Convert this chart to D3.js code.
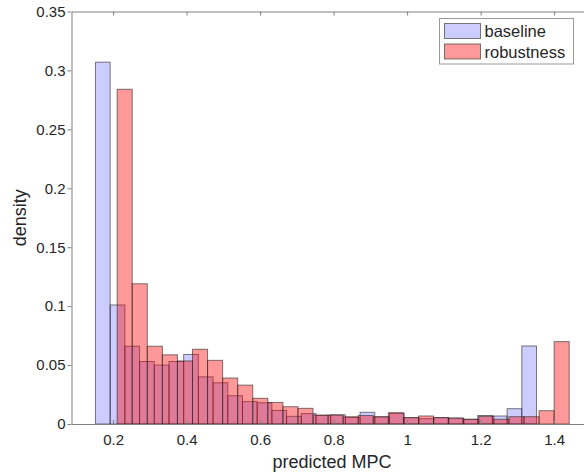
<!DOCTYPE html>
<head>
<title>predicted MPC histogram</title>
<script src="https://d3js.org/d3.v7.min.js"></script>
</head>

<style>
body {
	margin: 0;
	background: #fff;
}
text {
	font-family: "Liberation Sans", Arial, Helvetica, sans-serif;
	fill: #262626;
}
</style>

<body>
 <svg class="chart"></svg>
</body>

<script>

// series names (legend order)
var seriesNames = ["baseline", "robustness"];

// bin edges
var baselineEdges = [0.152, 0.192, 0.232, 0.272, 0.312, 0.352, 0.392, 0.432, 0.472, 0.512,
	0.552, 0.592, 0.632, 0.672, 0.712, 0.752, 0.792, 0.832, 0.872, 0.912,
	0.952, 0.992, 1.032, 1.072, 1.112, 1.152, 1.192, 1.232, 1.272, 1.312, 1.352];
var robustnessEdges = [0.211, 0.252, 0.293, 0.334, 0.375, 0.416, 0.457, 0.498, 0.539, 0.580,
	0.621, 0.662, 0.703, 0.744, 0.785, 0.826, 0.867, 0.908, 0.949, 0.990,
	1.031, 1.072, 1.113, 1.154, 1.195, 1.236, 1.277, 1.318, 1.359, 1.400, 1.441];

// densities per bin
var baselineDensity = [0.307, 0.101, 0.066, 0.053, 0.050, 0.053, 0.059, 0.040, 0.035, 0.024,
	0.019, 0.018, 0.0115, 0.0065, 0.0088, 0.0073, 0.0078, 0.0055, 0.0099, 0.0060,
	0.0090, 0.0054, 0.0045, 0.0054, 0.0050, 0.0040, 0.0072, 0.0068, 0.0130, 0.0662];
var robustnessDensity = [0.284, 0.119, 0.066, 0.0587, 0.0535, 0.0634, 0.054, 0.039, 0.033, 0.0218,
	0.0183, 0.0147, 0.0133, 0.0076, 0.0076, 0.0062, 0.0072, 0.0062, 0.0096, 0.0054,
	0.0068, 0.0054, 0.0050, 0.0040, 0.0065, 0.0040, 0.0062, 0.0062, 0.0113, 0.0699];

// tick labels
var xTickValues = [0.2, 0.4, 0.6, 0.8, 1, 1.2, 1.4];
var xTickLabels = ["0.2", "0.4", "0.6", "0.8", "1", "1.2", "1.4"];
var yTickValues = [0, 0.05, 0.1, 0.15, 0.2, 0.25, 0.3, 0.35];
var yTickLabels = ["0", "0.05", "0.1", "0.15", "0.2", "0.25", "0.3", "0.35"];

//set up chart
var totalWidth = 584;
var totalHeight = 473;
var margin = {top: 11.5, left: 71.5};
var width = 516;      // right spine falls just off the picture
var height = 412.5;

var fills = ["rgba(0,0,255,0.2)", "rgba(255,0,0,0.4)"];

var svg = d3.select(".chart")
	.attr("width", totalWidth)
	.attr("height", totalHeight);

var chart = svg.append("g")
	.attr("transform", "translate(" + margin.left + "," + margin.top + ")");

var xChart = d3.scaleLinear()
	.domain([0.0868, 1.4908])
	.range([0, width]);

var yChart = d3.scaleLinear()
	.domain([0, 0.35])
	.range([height, 0]);

function binsOf(edges, values) {
	return values.map(function(v, i) {
		return {x0: edges[i], x1: edges[i + 1], v: v};
	});
}

var series = [
	binsOf(baselineEdges, baselineDensity),
	binsOf(robustnessEdges, robustnessDensity)
];

//draw bars, baseline first then robustness over it
series.forEach(function(bins, s) {
	chart.append("g")
		.selectAll("rect")
		.data(bins)
		.enter()
		.append("rect")
		.attr("x", function(d){ return xChart(d.x0); })
		.attr("y", function(d){ return yChart(d.v); })
		.attr("width", function(d){ return xChart(d.x1) - xChart(d.x0); })
		.attr("height", function(d){ return height - yChart(d.v); })
		.attr("fill", fills[s])
		.attr("stroke", "#262626")
		.attr("stroke-opacity", 0.6)
		.attr("stroke-width", 1);
});

//axes
var xAxis = d3.axisBottom(xChart)
	.tickValues(xTickValues)
	.tickFormat(function(d, i){ return xTickLabels[i]; })
	.tickSizeInner(-4)
	.tickSizeOuter(0)
	.tickPadding(10.5);

var xTop = d3.axisTop(xChart)
	.tickValues(xTickValues)
	.tickFormat("")
	.tickSizeInner(-4)
	.tickSizeOuter(0);

var yAxis = d3.axisLeft(yChart)
	.tickValues(yTickValues)
	.tickFormat(function(d, i){ return yTickLabels[i]; })
	.tickSizeInner(4)
	.tickSizeOuter(0)
	.tickPadding(2);

chart.append("g")
	.attr("class", "x axis")
	.attr("transform", "translate(0," + height + ")")
	.call(xAxis);

chart.append("g")
	.attr("class", "x top")
	.call(xTop);

chart.append("g")
	.attr("class", "y axis")
	.call(yAxis);

chart.selectAll(".domain, .tick line")
	.attr("stroke", "#808080");
chart.selectAll(".tick text")
	.attr("fill", "#262626")
	.style("font-family", "'Liberation Sans', Arial, sans-serif")
	.style("font-size", "15px");

// axis labels
svg.append("text")
	.attr("x", 332)
	.attr("y", 468)
	.attr("text-anchor", "middle")
	.style("font-size", "18px")
	.text("predicted MPC");

svg.append("text")
	.attr("transform", "translate(26," + (margin.top + height / 2) + ") rotate(-90)")
	.attr("text-anchor", "middle")
	.style("font-size", "18px")
	.text("density");

// legend
var legend = svg.append("g")
	.attr("transform", "translate(439.5,18.5)");

legend.append("rect")
	.attr("width", 134)
	.attr("height", 45.5)
	.attr("fill", "#fff")
	.attr("stroke", "#999");

var items = legend.selectAll(".item")
	.data(seriesNames)
	.enter()
	.append("g")
	.attr("class", "item")
	.attr("transform", function(d, i){ return "translate(5," + (5 + i * 20.5) + ")"; });

items.append("rect")
	.attr("width", 36)
	.attr("height", 15)
	.attr("fill", function(d, i){ return fills[i]; })
	.attr("stroke", "#262626")
	.attr("stroke-opacity", 0.6);

items.append("text")
	.attr("x", 40)
	.attr("y", 8)
	.attr("dy", "0.35em")
	.style("font-size", "16.5px")
	.text(function(d){ return d; });

</script>
